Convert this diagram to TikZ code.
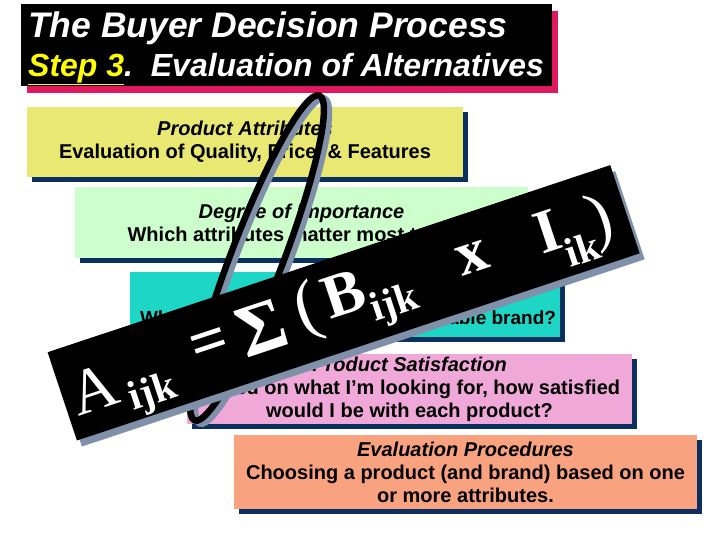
\documentclass[tikz,border=0pt]{standalone}
\usepackage{fontspec}
\setmainfont{Liberation Sans}
\newfontfamily\tnr{Liberation Serif}
\usetikzlibrary{shadows}
\definecolor{navy}{HTML}{0B2F5E}
\definecolor{titlepink}{HTML}{E0185F}
\definecolor{boxyellow}{HTML}{E8E873}
\definecolor{boxgreen}{HTML}{CCFFCC}
\definecolor{boxcyan}{HTML}{1ED6C6}
\definecolor{boxpink}{HTML}{F0A8D8}
\definecolor{boxsalmon}{HTML}{F9A27F}
\definecolor{stripgray}{HTML}{8090A8}
\definecolor{titleyellow}{HTML}{FFFF00}
\begin{document}
\begin{tikzpicture}[x=1pt,y=-1pt,
  box/.style={rectangle, inner sep=0pt, align=center,
    font=\bfseries\fontsize{20}{23}\selectfont,
    drop shadow={shadow xshift=5pt, shadow yshift=-5pt, opacity=1, fill=navy}},
  titlebox/.style={rectangle, inner sep=0pt, fill=black,
    drop shadow={shadow xshift=6pt, shadow yshift=-7pt, opacity=1, fill=titlepink}},
  titletext/.style={anchor=west, inner sep=0pt, text=white,
    font=\bfseries\itshape\fontsize{35.5}{38}\selectfont},
  boxtext/.style={inner sep=0pt, align=center, font=\bfseries\fontsize{19}{23}\selectfont},
  stripbox/.style={rectangle, inner sep=0pt, minimum width=593pt, minimum height=93pt, rotate=18.4},
  big/.style={inner sep=0pt, text=white, rotate=18.4, font=\tnr\bfseries\fontsize{62}{62}\selectfont},
  bigreg/.style={big, font=\tnr\fontsize{64}{64}\selectfont},
  small/.style={inner sep=0pt, text=white, rotate=18.4, font=\tnr\bfseries\fontsize{41}{41}\selectfont},
  loop/.style={line width=6.5pt}
]
\useasboundingbox (0,0) rectangle (720,540);

% title
\node[titlebox, minimum width=531pt, minimum height=82pt] (title) at (286.5,45) {};
\node[titletext] (t1) at (28,28) {The Buyer Decision Process};
\node[titletext, font=\bfseries\itshape\fontsize{32}{36}\selectfont] (t2) at (28,69)
  {\textcolor{titleyellow}{\underline{Step 3}}.\ \ Evaluation of Alternatives};

% boxes
\node[box, fill=boxyellow, minimum width=436pt, minimum height=70pt] (b1) at (245,142)
  {\itshape Product Attributes\\ Evaluation of Quality, Price, \& Features};
\node[box, fill=boxgreen, minimum width=453pt, minimum height=71pt] (b2) at (301.5,222.5)
  {\itshape Degree of Importance\\ Which attributes matter most to me?};
\node[box, fill=boxcyan, minimum width=430pt, minimum height=65pt] (b3) at (345,304.5) {};
\node[boxtext] (b3t) at (348,318) {What do I believe about each available brand?};
\node[box, fill=boxpink, minimum width=445pt, minimum height=70pt] (b4) at (409.5,389)
  {\itshape Product Satisfaction\\ Based on what I’m looking for, how satisfied\\ would I be with each product?};
\node[box, fill=boxsalmon, minimum width=463pt, minimum height=74pt] (b5) at (465.5,472)
  {\itshape Evaluation Procedures\\ Choosing a product (and brand) based on one\\ or more attributes.};

% loop
\draw[loop, stripgray, xshift=5pt, yshift=-3pt, rotate around={69:(257,258)}] (257,258) ellipse [x radius=174pt, y radius=26pt];
\draw[loop, black, rotate around={69:(257,258)}] (257,258) ellipse [x radius=174pt, y radius=26pt];

% strip
\node[stripbox, fill=stripgray] (stripsh) at (348.6,308.8) {};
\node[stripbox, fill=black] (strip) at (343.6,302.8) {};

% formula
\node[bigreg] (fA) at (94,389) {A};
\node[small] (fA1) at (153,394) {ijk};
\node[big, font=\tnr\bfseries\fontsize{66}{66}\selectfont] (feq) at (210,347) {=};
\node[big, font=\tnr\bfseries\fontsize{74}{74}\selectfont] (fsum) at (262,328) {Σ};
\node[bigreg, font=\tnr\fontsize{70}{70}\selectfont] (flp) at (308,312) {(};
\node[big] (fB) at (344,294) {B};
\node[small] (fB1) at (395,305) {ijk};
\node[big] (fx) at (473,258) {x};
\node[big] (fI) at (548,231) {I};
\node[small] (fI1) at (582,249) {ik};
\node[bigreg, font=\tnr\fontsize{68}{68}\selectfont] (frp) at (601,222) {)};
\end{tikzpicture}
\end{document}
